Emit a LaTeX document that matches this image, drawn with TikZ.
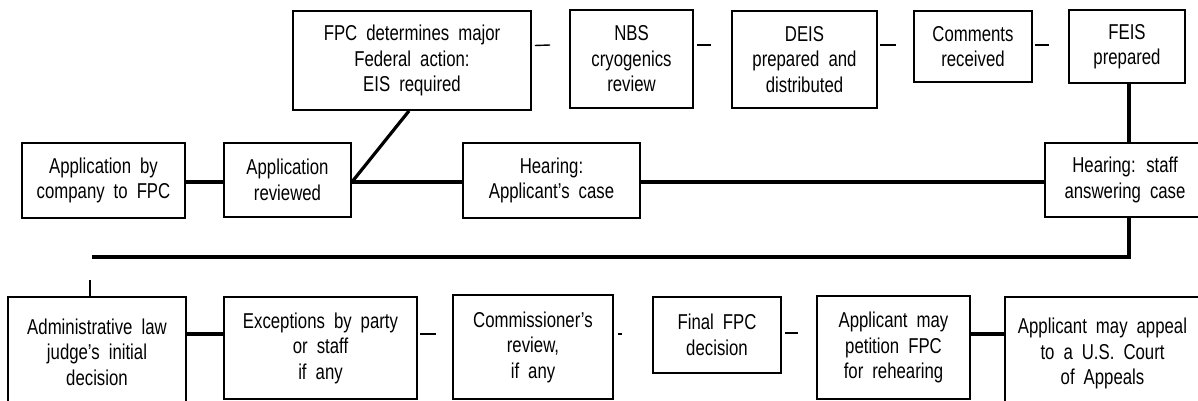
\documentclass[tikz,border=0pt]{standalone}
\usepackage{fontspec}
\setmainfont{Liberation Sans}[FakeStretch=0.78]
\usetikzlibrary{calc}
\newcommand{\bxfont}{\fontsize{21.5}{25.5}\selectfont\spaceskip=0.42em\relax}
\begin{document}
\begin{tikzpicture}[x=1pt,y=-1pt,
  box/.style={draw,line width=1.8pt,align=center,inner sep=0pt,font=\bxfont},
  conn/.style={line width=3.2pt},
  thin/.style={line width=1.4pt}]
\useasboundingbox (0,0) rectangle (1198,401);
\clip (0,0) rectangle (1198,401);
% top row
\node[box,minimum width=238pt,minimum height=99pt] (fpc) at (412,60.5) {FPC determines major\\Federal action:\\EIS required};
\node[box,minimum width=123pt,minimum height=98pt] (nbs) at (631.5,59) {NBS\\cryogenics\\review};
\node[box,minimum width=145pt,minimum height=97pt] (deis) at (804.5,59.5) {DEIS\\prepared and\\distributed};
\node[box,minimum width=118pt,minimum height=71pt] (comm) at (973,46.5) {Comments\\received};
\node[box,minimum width=116pt,minimum height=73pt] (feis) at (1127,46.5) {FEIS\\prepared};
% middle row
\node[box,minimum width=163pt,minimum height=75pt] (appco) at (103.5,180.5) {Application by\\company to FPC};
\node[box,minimum width=127pt,minimum height=74pt] (apprev) at (287.5,180) {Application\\reviewed};
\node[box,minimum width=177pt,minimum height=75pt] (hearA) at (551.5,180.5) {Hearing:\\Applicant’s case};
\node[box,minimum width=160pt,minimum height=74pt] (hearS) at (1125,180) {Hearing: staff\\answering case};
% bottom row
\node[box,minimum width=178pt,minimum height=110pt] (admin) at (97,352) {Administrative law\\judge’s initial\\decision};
\node[box,minimum width=193pt,minimum height=102pt] (exc) at (320.5,348) {Exceptions by party\\or staff\\if any};
\node[box,minimum width=160pt,minimum height=104pt] (commr) at (533,347) {Commissioner’s\\review,\\if any};
\node[box,minimum width=128pt,minimum height=76pt] (final) at (717,335) {Final FPC\\decision};
\node[box,minimum width=153pt,minimum height=103pt] (pet) at (893.5,347.5) {Applicant may\\petition FPC\\for rehearing};
\node[box,minimum width=195pt,minimum height=113pt] (appeal) at (1102.5,353.5) {Applicant may appeal\\to a U.S. Court\\of Appeals};
% coordinates
\coordinate (row2) at (0,182);
\coordinate (row3) at (0,334);
\coordinate (busR) at (1129,257);
\coordinate (busL) at (92,257);
\coordinate (tickTop) at (90,280);
\coordinate (feisFoot) at (1129,82);
% middle row connectors
\draw[conn] (appco.east |- row2) -- (apprev.west |- row2);
\draw[conn] (apprev.east |- row2) -- (hearA.west |- row2);
\draw[conn] (apprev.east |- row2) -- ($(fpc.south)+(-3,0)$);
\draw[conn] (hearA.east |- row2) -- (hearS.west |- row2);
% top row dashes
\draw[thin] ($(fpc.east)+(3,-15)$) -- ($(nbs.west)+(-19,-14)$);
\draw[thin] ($(nbs.east)+(3,-14)$) -- ($(deis.west)+(-20,-14.5)$);
\draw[thin] ($(deis.east)+(2,-14.5)$) -- ($(comm.west)+(-17,-1.5)$);
\draw[thin] ($(comm.east)+(2,-1.5)$) -- ($(feis.west)+(-19,-1.5)$);
\draw[conn] (feisFoot) -- (feisFoot |- hearS.north);
% bus to bottom row
\draw[conn] (hearS.south -| busR) -- (busR) -- (busL);
\draw[thin] (tickTop) -- (tickTop |- admin.north);
% bottom row connectors
\draw[conn] (admin.east |- row3) -- (exc.west |- row3);
\draw[thin] ($(exc.east |- row3)+(2,0)$) -- ($(exc.east |- row3)+(18,0)$);
\draw[thin] ($(commr.east |- row3)+(4,0)$) -- ($(commr.east |- row3)+(8,0)$);
\draw[thin] ($(final.east |- row3)+(3,-1)$) -- ($(pet.west |- row3)+(-18,-1)$);
\draw[conn] (pet.east |- row3) -- (appeal.west |- row3);
\end{tikzpicture}
\end{document}
